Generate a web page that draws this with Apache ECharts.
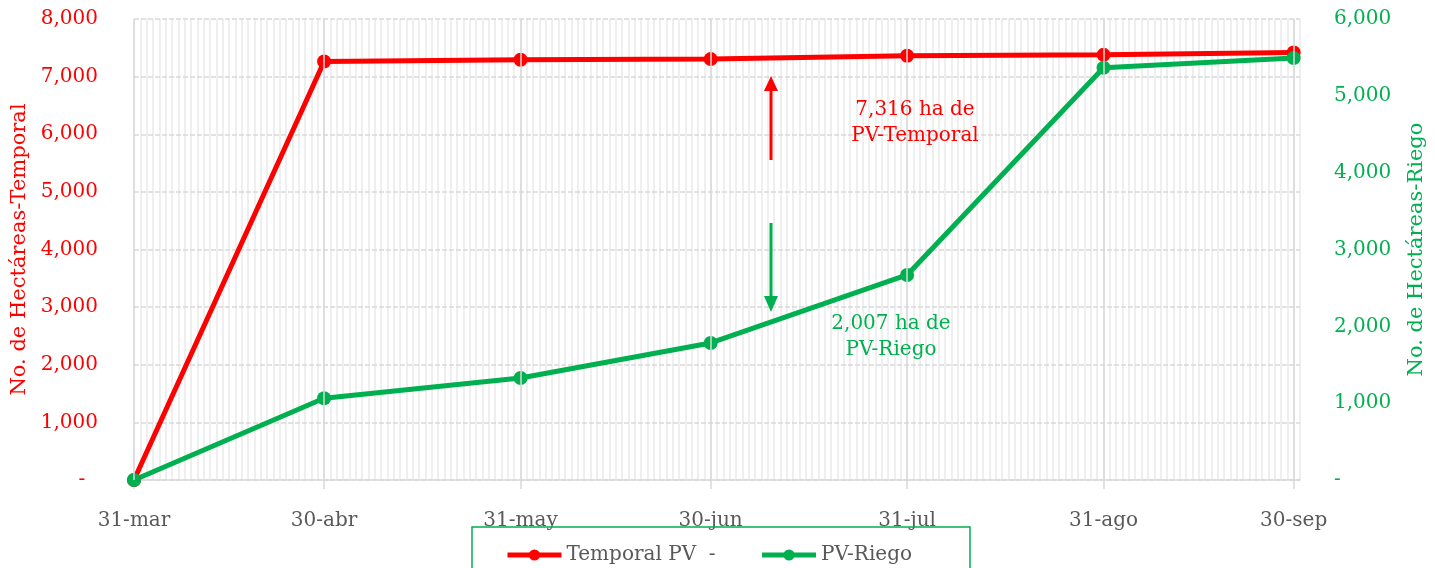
<!DOCTYPE html>
<html lang="es">
<head>
<meta charset="UTF-8">
<title>PV Temporal y Riego</title>
<script src="https://cdn.jsdelivr.net/npm/echarts@6/dist/echarts.min.js"></script>
<style>
  html, body { margin: 0; padding: 0; background: #fff; }
  #main { width: 1435px; height: 568px; }
</style>
</head>
<body>
<div id="main"></div>
<script type="text/javascript">
// fechas de corte (días desde el 31-mar) y sus etiquetas
var dateLabels = ['31-mar', '30-abr', '31-may', '30-jun', '31-jul', '31-ago', '30-sep'];
var dayOffsets = [0, 30, 61, 91, 122, 153, 183];
// hectáreas acumuladas
var temporalPV = [0, 7262, 7292, 7304, 7361, 7378, 7420];
var riegoPV = [0, 1064, 1328, 1784, 2669, 5365, 5491];

var font = 'DejaVu Serif';
var red = '#ff0000';
var green = '#00b050';

function pairs(vals) {
    return dayOffsets.map(function (d, i) { return [d, vals[i]]; });
}
function fmt(v, zero) {
    if (v === 0) return zero;
    return v.toLocaleString('en-US');
}

var myChart = echarts.init(document.getElementById('main'));

var option = {
    animation: false,
    grid: { left: 134, right: 133, top: 19, bottom: 88 },
    xAxis: [{
        type: 'value',
        min: 0,
        max: 184,
        z: 2,
        axisLine: { show: true, lineStyle: { color: '#d9d9d9', width: 1.5 } },
        axisTick: { show: true, customValues: dayOffsets, length: 9, lineStyle: { color: '#d9d9d9', width: 1.5 } },
        axisLabel: {
            customValues: dayOffsets,
            margin: 31,
            color: '#595959',
            fontFamily: font,
            fontSize: 20,
            formatter: function (v) {
                var i = dayOffsets.indexOf(Math.round(v));
                return i >= 0 ? dateLabels[i] : '';
            }
        },
        splitLine: { show: false }
    }, {
        // rejilla diaria
        type: 'value',
        position: 'bottom',
        min: 0,
        max: 184,
        interval: 1,
        z: -1,
        axisLine: { show: false },
        axisTick: { show: false },
        axisLabel: { show: false },
        splitLine: { show: true, lineStyle: { color: '#efefef', width: 2 } }
    }],
    yAxis: [{
        type: 'value',
        position: 'left',
        min: 0,
        max: 8000,
        interval: 1000,
        z: 1,
        name: 'No. de Hectáreas-Temporal',
        nameLocation: 'middle',
        nameRotate: 90,
        nameGap: 98,
        nameTextStyle: { color: red, fontFamily: font, fontSize: 21 },
        axisLine: { show: false },
        axisTick: { show: false },
        axisLabel: {
            margin: 36, color: red, fontFamily: font, fontSize: 20,
            formatter: function (v) { return fmt(v, '-  '); }
        },
        splitLine: { show: true, lineStyle: { color: '#d9d9d9', width: 1.5, type: [5, 2] } }
    }, {
        type: 'value',
        position: 'right',
        min: 0,
        max: 6000,
        interval: 1000,
        name: 'No. de Hectáreas-Riego',
        nameLocation: 'middle',
        nameRotate: 90,
        nameGap: 106,
        nameTextStyle: { color: green, fontFamily: font, fontSize: 21 },
        axisLine: { show: false },
        axisTick: { show: false },
        axisLabel: {
            margin: 34, color: green, fontFamily: font, fontSize: 20,
            formatter: function (v) { return fmt(v, '-'); }
        },
        splitLine: { show: false }
    }],
    legend: {
        left: 500,
        top: 540,
        itemWidth: 54,
        itemHeight: 14,
        itemGap: 44,
        lineStyle: { width: 5 },
        textStyle: { color: '#595959', fontFamily: font, fontSize: 20 },
        data: ['Temporal PV  -', 'PV-Riego']
    },
    series: [{
        // líneas verticales de cada corte mensual
        type: 'line',
        data: [],
        z: 1,
        silent: true,
        markLine: {
            silent: true,
            symbol: 'none',
            label: { show: false },
            lineStyle: { color: '#d9d9d9', width: 1.5, type: 'solid' },
            data: dayOffsets.map(function (d) { return { xAxis: d }; })
        }
    }, {
        name: 'Temporal PV  -',
        type: 'line',
        yAxisIndex: 0,
        data: pairs(temporalPV),
        symbol: 'circle',
        symbolSize: 14,
        lineStyle: { color: red, width: 5 },
        itemStyle: { color: red }
    }, {
        name: 'PV-Riego',
        type: 'line',
        yAxisIndex: 1,
        data: pairs(riegoPV),
        symbol: 'circle',
        symbolSize: 14,
        lineStyle: { color: green, width: 5 },
        itemStyle: { color: green }
    }],
    graphic: [
        { type: 'rect', z: 100, shape: { x: 472, y: 527, width: 498, height: 60 }, style: { fill: 'none', stroke: green, lineWidth: 1.5 } },
        { type: 'line', z: 100, shape: { x1: 771, y1: 160, x2: 771, y2: 90 }, style: { stroke: red, lineWidth: 3 } },
        { type: 'polygon', z: 100, shape: { points: [[764, 91], [778, 91], [771, 76]] }, style: { fill: red } },
        { type: 'line', z: 100, shape: { x1: 771, y1: 223, x2: 771, y2: 297 }, style: { stroke: green, lineWidth: 3 } },
        { type: 'polygon', z: 100, shape: { points: [[764, 296], [778, 296], [771, 312]] }, style: { fill: green } },
        {
            type: 'text', z: 100, x: 915, y: 123,
            style: { text: '7,316 ha de\nPV-Temporal', fill: red, font: '20px "DejaVu Serif"', align: 'center', verticalAlign: 'middle', lineHeight: 26 }
        },
        {
            type: 'text', z: 100, x: 891, y: 337,
            style: { text: '2,007 ha de\nPV-Riego', fill: green, font: '20px "DejaVu Serif"', align: 'center', verticalAlign: 'middle', lineHeight: 26 }
        }
    ]
};

myChart.setOption(option);
</script>
</body>
</html>
